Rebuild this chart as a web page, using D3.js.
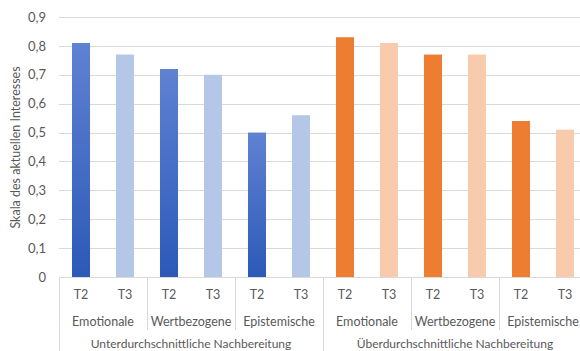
<!DOCTYPE html>
<html>
<head>
<meta charset="utf-8">
<script src="https://cdn.jsdelivr.net/npm/d3@7/dist/d3.min.js"></script>
<style>
  html, body { margin: 0; padding: 0; background: #fff; }
  svg { display: block; }
  text { font-family: Lato, "Open Sans", sans-serif; fill: #595959; }
</style>
</head>
<body>
<script>
// ---- data ----
const groups = ["Unterdurchschnittliche Nachbereitung", "Überdurchschnittliche Nachbereitung"];
const categories = ["Emotionale", "Wertbezogene", "Epistemische"];
const times = ["T2", "T3"];
const valuesUnter = [0.81, 0.77, 0.72, 0.70, 0.50, 0.56];
const valuesUeber = [0.83, 0.81, 0.77, 0.77, 0.54, 0.51];
const yTicks = [0, 0.1, 0.2, 0.3, 0.4, 0.5, 0.6, 0.7, 0.8, 0.9];
const yTitle = "Skala des aktuellen Interesses";

// build flat rows
const rows = [];
groups.forEach((g, gi) => {
  const vals = gi === 0 ? valuesUnter : valuesUeber;
  categories.forEach((c, ci) => {
    times.forEach((t, ti) => {
      rows.push({ key: gi + "-" + ci + "-" + ti, group: gi, cat: ci, time: ti, label: t, value: vals[ci * 2 + ti] });
    });
  });
});

const W = 580, H = 351;
const mLeft = 59, mRight = 587, mTop = 17, mBottom = 277;

const svg = d3.select("body").append("svg").attr("width", W).attr("height", H);

const defs = svg.append("defs");
const grad = defs.append("linearGradient").attr("id", "blueGrad")
  .attr("x1", 0).attr("y1", 0).attr("x2", 0).attr("y2", 1);
grad.append("stop").attr("offset", "0%").attr("stop-color", "#5f82d2");
grad.append("stop").attr("offset", "100%").attr("stop-color", "#2c59b8");

const x = d3.scaleBand().domain(rows.map(d => d.key)).range([mLeft, mRight]).paddingInner(0.59).paddingOuter(0.295);
const y = d3.scaleLinear().domain([0, 0.9]).range([mBottom, mTop]);
const step = x.step();

// gridlines
svg.append("g").selectAll("line").data(yTicks).join("line")
  .attr("x1", mLeft).attr("x2", mRight)
  .attr("y1", d => Math.round(y(d)) + 0.5).attr("y2", d => Math.round(y(d)) + 0.5)
  .attr("stroke", "#d9d9d9").attr("stroke-width", 1);

// y axis labels
const fmt = d => d === 0 ? "0" : d3.format(".1f")(d).replace(".", ",");
const yAxis = d3.axisLeft(y).tickValues(yTicks).tickFormat(fmt).tickSize(0).tickPadding(13);
const ya = svg.append("g").attr("transform", `translate(${mLeft},0)`).call(yAxis);
ya.select(".domain").remove();
ya.selectAll("text").attr("font-size", 13).attr("fill", "#595959")
  .style("font-family", "Lato, 'Open Sans', sans-serif");

// bars
const colorFor = d => {
  if (d.group === 0) return d.time === 0 ? "url(#blueGrad)" : "#b4c7e7";
  return d.time === 0 ? "#ed7d31" : "#f8cbad";
};
svg.append("g").selectAll("rect").data(rows).join("rect")
  .attr("x", d => x(d.key))
  .attr("width", x.bandwidth())
  .attr("y", d => y(d.value))
  .attr("height", d => y(0) - y(d.value))
  .attr("fill", colorFor);

// x axis multi-level
const xa = svg.append("g");
xa.selectAll("text.t").data(rows).join("text").attr("class", "t")
  .attr("x", d => x(d.key) + x.bandwidth() / 2)
  .attr("y", 299)
  .attr("text-anchor", "middle").attr("font-size", 12.5)
  .text(d => d.label);

const catRows = [];
groups.forEach((g, gi) => categories.forEach((c, ci) => catRows.push({ gi, ci, name: c })));
const catX = d => mLeft + (d.gi * 3 + d.ci) * 2 * step;
xa.selectAll("text.c").data(catRows).join("text").attr("class", "c")
  .attr("x", d => catX(d) + step)
  .attr("y", 325.5)
  .attr("text-anchor", "middle").attr("font-size", 12.5)
  .text(d => d.name);

xa.selectAll("text.g").data(groups).join("text").attr("class", "g")
  .attr("x", (d, i) => mLeft + i * 6 * step + 3 * step)
  .attr("y", 348)
  .attr("text-anchor", "middle").attr("font-size", 12)
  .text(d => d);

const seps = [];
for (let i = 0; i <= 6; i++) seps.push({ x: mLeft + i * 2 * step, full: i % 3 === 0 });
xa.selectAll("line.s").data(seps).join("line").attr("class", "s")
  .attr("x1", d => Math.round(d.x) + 0.5).attr("x2", d => Math.round(d.x) + 0.5)
  .attr("y1", mBottom).attr("y2", d => d.full ? H : 330)
  .attr("stroke", "#d9d9d9").attr("stroke-width", 1);

svg.append("text")
  .attr("transform", `translate(20,${(65 + 230) / 2}) rotate(-90)`)
  .attr("text-anchor", "middle").attr("font-size", 12.5)
  .text(yTitle);
</script>
</body>
</html>
